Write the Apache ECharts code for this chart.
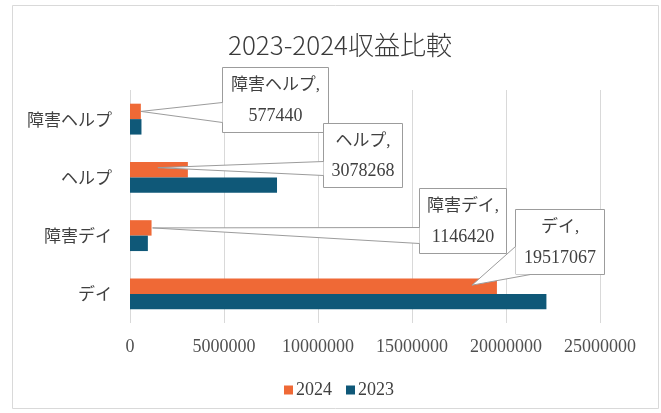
<!DOCTYPE html>
<html><head><meta charset="utf-8">
<script src="https://cdn.jsdelivr.net/npm/echarts@6/dist/echarts.min.js"></script>
<style>html,body{margin:0;padding:0;background:#fff}#c{width:661px;height:413px}</style>
</head><body><div id="c"></div>
<script>
// ---- data ----
const titleText = '2023-2024収益比較';
const categories = ['デイ', '障害デイ', 'ヘルプ', '障害ヘルプ'];
const seriesNames = ['2024', '2023'];
const values2024 = [19517067, 1146420, 3078268, 577440];
const values2023 = [22150000, 950000, 7820000, 610000];
const axisMin = 0;
const axisMax = 25000000;
const axisStep = 5000000;

// ---- callout layout (box positions only; tips come from the bars) ----
const callouts = [
  { cat: '障害ヘルプ', box: [222, 67, 106, 65], base: [[222, 102], [222, 122]], tipDx: 0, tipDy: 0 },
  { cat: 'ヘルプ', box: [323, 123, 79, 64], base: [[323, 161], [323, 175]], tipDx: -30, tipDy: -2 },
  { cat: '障害デイ', box: [419, 188, 87, 65], base: [[419, 227], [419, 243]], tipDx: 1, tipDy: 0 },
  { cat: 'デイ', box: [515, 209, 89, 65], base: [[515, 246], [515, 274], [530, 274]], tipDx: -25, tipDy: -1 }
];

const FONT = "'Liberation Serif', 'Noto Sans CJK JP', serif";
const JFONT = "'Noto Sans CJK JP', sans-serif";
const TXT = '#404040';
const chart = echarts.init(document.getElementById('c'));
chart.setOption({
  animation: false,
  backgroundColor: '#ffffff',
  title: {
    text: titleText, left: 335, top: 27, textAlign: 'center',
    textStyle: { fontFamily: JFONT, fontSize: 26, fontWeight: 300, color: '#3a3a3a' }
  },
  legend: {
    data: seriesNames, left: 279, top: 376, icon: 'rect', itemWidth: 9, itemHeight: 9, itemGap: 14,
    textStyle: { fontFamily: FONT, fontSize: 18, lineHeight: 18, color: TXT, padding: [0, 0, 0, -2] }
  },
  grid: { left: 130, right: 61, top: 90, bottom: 90, containLabel: false },
  xAxis: {
    type: 'value', min: axisMin, max: axisMax, interval: axisStep,
    axisLine: { show: false }, axisTick: { show: false },
    splitLine: { lineStyle: { color: '#d9d9d9', width: 1 } },
    axisLabel: { fontFamily: FONT, fontSize: 18, lineHeight: 18, color: '#505050', margin: 15, formatter: v => String(v) }
  },
  yAxis: {
    type: 'category', data: categories,
    axisLine: { show: false }, axisTick: { show: false },
    axisLabel: { fontFamily: JFONT, fontSize: 17, color: TXT, margin: 18 }
  },
  series: [
    { name: seriesNames[0], type: 'bar', data: values2024, itemStyle: { color: '#ef6936' }, barGap: '0%', barCategoryGap: '47%' },
    { name: seriesNames[1], type: 'bar', data: values2023, itemStyle: { color: '#0f5878' }, barGap: '0%', barCategoryGap: '47%' }
  ]
});

// ---- callouts anchored to the 2024 bars ----
const seriesData = chart.getModel().getSeriesByIndex(0).getData();
const graphics = [{
  type: 'rect', shape: { x: 12.5, y: 5.5, width: 646, height: 403 },
  style: { fill: 'none', stroke: '#d9d9d9', lineWidth: 1 }, z: 0, silent: true
}];
callouts.forEach(c => {
  const idx = categories.indexOf(c.cat);
  const lay = seriesData.getItemLayout(idx);
  const endX = lay.x + lay.width;
  const midY = lay.y + lay.height / 2;
  const tip = [endX + c.tipDx, midY + c.tipDy];
  const [bx, by, bw, bh] = c.box;
  graphics.push({
    type: 'rect', shape: { x: bx + 0.5, y: by + 0.5, width: bw, height: bh },
    style: { fill: '#ffffff', stroke: '#9c9c9c', lineWidth: 1 }, z: 100
  });
  const poly = [tip].concat(c.base.map(p => [p[0] + 0.5, p[1] + 0.5]));
  graphics.push({
    type: 'polygon', shape: { points: poly },
    style: { fill: '#ffffff', stroke: 'none' }, z: 101
  });
  const b = c.base;
  graphics.push({
    type: 'polyline', shape: { points: [[b[0][0] + 0.5, b[0][1] + 0.5], tip, [b[b.length - 1][0] + 0.5, b[b.length - 1][1] + 0.5]] },
    style: { stroke: '#9c9c9c', lineWidth: 1, fill: 'none' }, z: 102
  });
  graphics.push({
    type: 'text', x: bx + bw / 2 + 0.5, y: by + bh / 2 + 1.5, z: 103,
    style: {
      text: '{a|' + c.cat + ',}\n{b|' + values2024[idx] + '}', align: 'center', verticalAlign: 'middle',
      rich: {
        a: { fontFamily: FONT, fontSize: 17, lineHeight: 30, fill: TXT, align: 'center' },
        b: { fontFamily: FONT, fontSize: 18, lineHeight: 30, fill: TXT, align: 'center' }
      }
    }
  });
});
chart.setOption({ graphic: graphics });
</script></body></html>
